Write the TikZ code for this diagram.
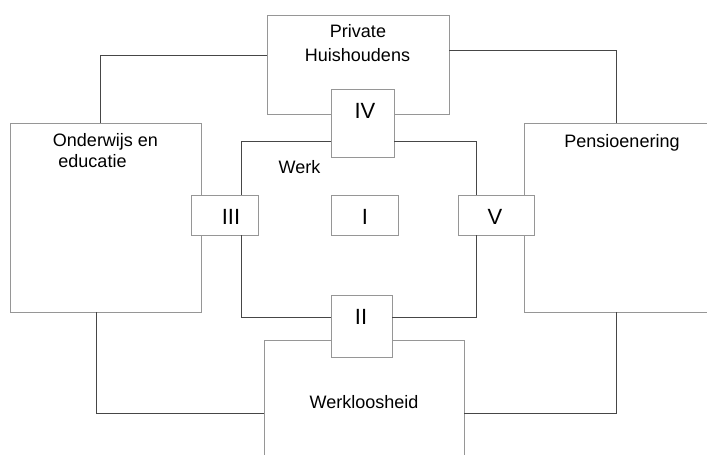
\documentclass[tikz,border=0pt]{standalone}
\usepackage{fontspec}
\setmainfont{Liberation Sans}
\usetikzlibrary{calc}
\definecolor{boxcol}{RGB}{150,150,150}
\definecolor{linecol}{RGB}{70,70,70}
\tikzset{
  box/.style={draw=boxcol, line width=1pt, rectangle, inner sep=0pt, outer sep=0pt},
  conn/.style={draw=linecol, line width=1pt},
  lbl/.style={anchor=base, inner sep=0pt, font=\fontsize{18}{21}\selectfont},
  num/.style={anchor=base, inner sep=0pt, font=\fontsize{22}{26}\selectfont}
}
\begin{document}
\begin{tikzpicture}[x=1pt,y=-1pt]
\useasboundingbox (0,0) rectangle (707,455);
\clip (0,0) rectangle (707,455);
% connectors first
\node[box, minimum width=182pt, minimum height=99pt] (ph) at (358,64.5) {};
\node[box, minimum width=191pt, minimum height=189pt] (ow) at (105.5,217.5) {};
\node[box, minimum width=196pt, minimum height=189pt] (pe) at (622,217.5) {};
\node[box, minimum width=200pt, minimum height=130pt] (wl) at (364,405) {};
\node[box, fill=white, minimum width=63pt, minimum height=68pt] (iv) at (362.5,123) {};
\node[box, fill=white, minimum width=67pt, minimum height=40pt] (iii) at (224.5,215) {};
\node[box, fill=white, minimum width=67pt, minimum height=40pt] (i) at (364.5,215) {};
\node[box, fill=white, minimum width=76pt, minimum height=40pt] (v) at (496,215) {};
\node[box, fill=white, minimum width=61pt, minimum height=62pt] (ii) at (361.5,326) {};
% connectors
\draw[conn] ($(ow.north)+(-5.5,0)$) |- ($(ph.west)+(0,-9.5)$);
\draw[conn] ($(ph.east)+(0,-14.5)$) -| ($(pe.north)+(-6,0)$);
\draw[conn] ($(iv.west)+(0,18)$) -| ($(iii.north)+(16.5,0)$);
\draw[conn] ($(iv.east)+(0,18)$) -| ($(v.north)+(-20,0)$);
\draw[conn] ($(iii.south)+(16.5,0)$) |- ($(ii.west)+(0,-9)$);
\draw[conn] ($(v.south)+(-20,0)$) |- ($(ii.east)+(0,-9)$);
\draw[conn] ($(ow.south)+(-9.5,0)$) |- ($(wl.west)+(0,8)$);
\draw[conn] ($(pe.south)+(-6,0)$) |- ($(wl.east)+(0,8)$);
% texts
\node[lbl] (tph1) at (358,37.5) {Private};
\node[lbl] (tph2) at (357.5,61) {Huishoudens};
\node[lbl] (tow1) at (105.5,146.5) {Onderwijs en};
\node[lbl] (tow2) at (92.5,167.5) {educatie};
\node[lbl] (twerk) at (299.5,173) {Werk};
\node[lbl] (tpe) at (622,147) {Pensioenering};
\node[lbl] (twl) at (364,408) {Werkloosheid};
\node[num] (tiv) at (365,118) {IV};
\node[num] (tiii) at (231,224) {III};
\node[num] (ti) at (365,224) {I};
\node[num] (tv) at (495,224) {V};
\node[num] (tii) at (361,324) {II};
\end{tikzpicture}
\end{document}
